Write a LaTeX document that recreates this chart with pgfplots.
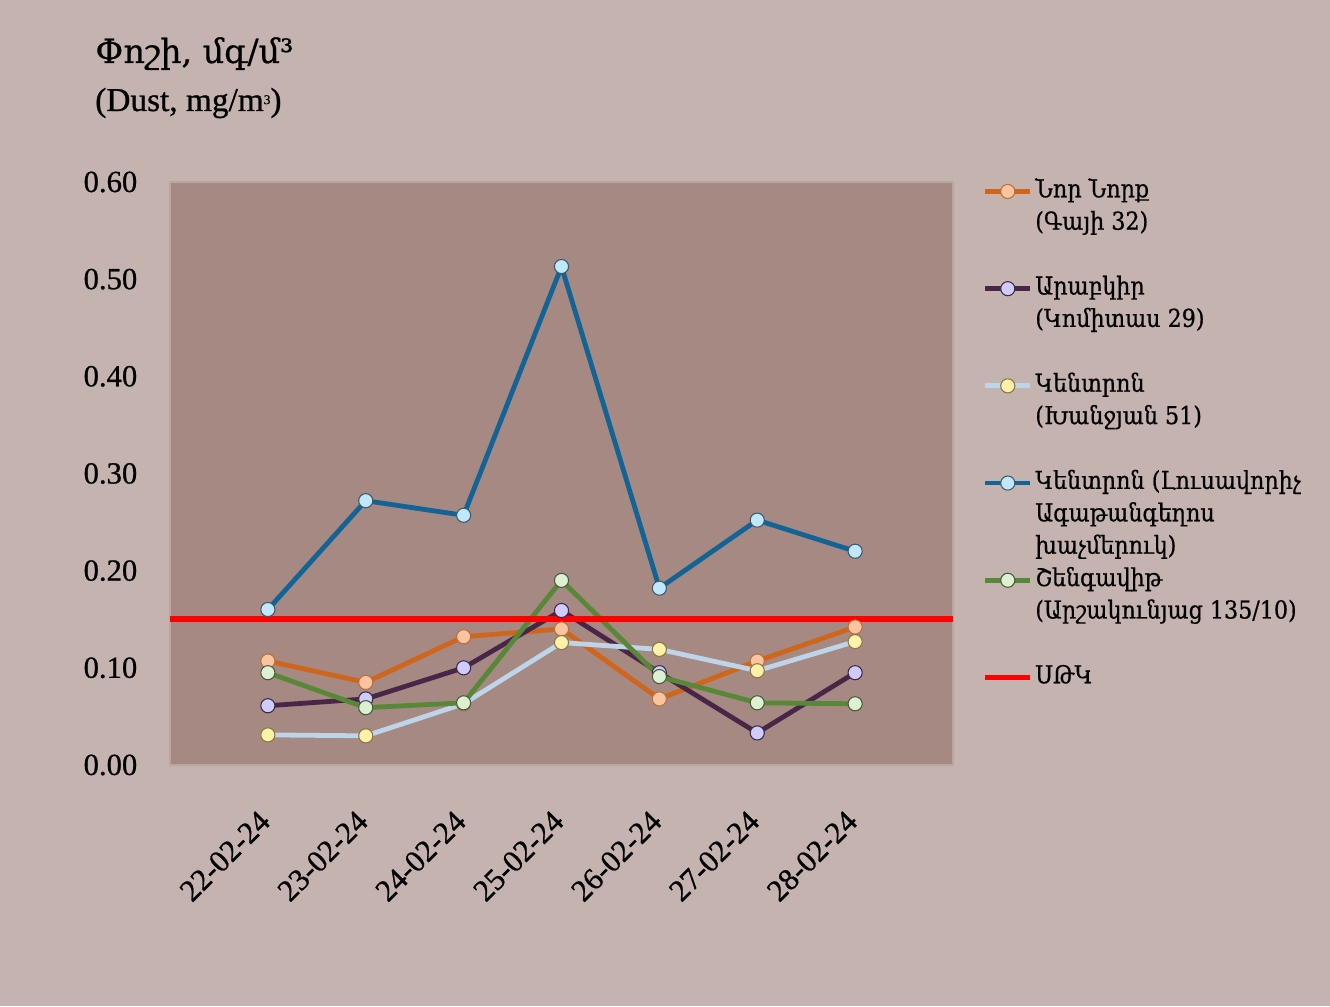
\documentclass[border=0pt]{standalone}
\usepackage{fontspec}
\setmainfont{Liberation Serif}[FakeBold=0.8]
\newfontfamily\arm{DejaVu Serif}[FakeBold=0.6]
\newfontfamily\armleg{DejaVu Serif}[FakeStretch=0.9, FakeBold=0.6]
\usepackage{pgfplots}
\pgfplotsset{compat=1.18}
\definecolor{bg}{RGB}{197,179,176}
\definecolor{plotbg}{RGB}{165,137,130}
\definecolor{cOr}{RGB}{208,102,28}
\definecolor{mOr}{RGB}{250,196,160}
\definecolor{dOr}{RGB}{190,110,60}
\definecolor{cPu}{RGB}{72,38,72}
\definecolor{mPu}{RGB}{208,204,250}
\definecolor{dPu}{RGB}{60,40,80}
\definecolor{cLb}{RGB}{190,212,232}
\definecolor{mLb}{RGB}{255,240,170}
\definecolor{dLb}{RGB}{140,120,60}
\definecolor{cBl}{RGB}{18,100,150}
\definecolor{mBl}{RGB}{192,232,252}
\definecolor{dBl}{RGB}{60,90,110}
\definecolor{cGr}{RGB}{86,136,56}
\definecolor{mGr}{RGB}{222,240,210}
\definecolor{dGr}{RGB}{70,90,60}
\newcommand\EL[1]{\addlegendimage{empty legend}\addlegendentry{#1}}
\begin{document}
\begin{tikzpicture}
\fill[bg] (0,0) rectangle (997.5pt,754.5pt);
\useasboundingbox (0,0) rectangle (997.5pt,754.5pt);
\node[anchor=base west, inner sep=0pt, font=\arm\fontsize{25}{28}\selectfont] at (71.25pt,707.25pt) {Փոշի, մգ/մ³};
\node[anchor=base west, inner sep=0pt, font=\fontsize{25}{28}\selectfont] at (71.25pt,671.25pt) {(Dust, mg/m\raisebox{0.45ex}{\fontsize{10}{10}\selectfont 3})};
\begin{axis}[
  at={(127.5pt,180.75pt)}, anchor=south west,
  scale only axis, width=587.25pt, height=437.25pt,
  xmin=-1, xmax=7, ymin=0, ymax=0.6,
  ytick={0,0.1,0.2,0.3,0.4,0.5,0.6},
  xtick={0,1,2,3,4,5,6},
  xticklabels={22-02-24,23-02-24,24-02-24,25-02-24,26-02-24,27-02-24,28-02-24},
  axis background/.style={fill=plotbg},
  axis line style={draw={rgb,255:red,185;green,166;blue,162}, line width=1pt},
  major tick length=0pt,
  tick label style={font=\fontsize{23}{27}\selectfont},
  /pgf/number format/assume math mode=true,
  yticklabel style={/pgf/number format/fixed, /pgf/number format/fixed zerofill, /pgf/number format/precision=2, anchor=east, xshift=-21pt},
  xticklabel style={yshift=-36pt, rotate=45, anchor=east},
  legend style={at={(1.037,1.012)}, anchor=north west, draw=none, fill=none,
    font=\armleg\fontsize{18.5}{24}\selectfont, row sep=0pt, inner sep=0pt,
    nodes={text height=16.5pt, text depth=7.8pt, inner ysep=0pt, inner xsep=1.5pt},
    /tikz/every even column/.append style={column sep=0pt}},
  legend cell align=left,
  legend image code/.code={\draw[mark repeat=2,mark phase=2,#1] plot coordinates {(0pt,0pt) (17pt,0pt) (34pt,0pt)};},
]
\addplot[color=cOr, line width=3.6pt, mark=*, mark size=5.3pt, mark options={fill=mOr, draw=dOr, line width=0.8pt}]
  coordinates {(0,0.107) (1,0.085) (2,0.132) (3,0.140) (4,0.068) (5,0.107) (6,0.142)};
\addlegendentry{Նոր Նորք}
\EL{(Գայի 32)}
\EL{\mbox{}}
\addplot[color=cPu, line width=3.6pt, mark=*, mark size=5.3pt, mark options={fill=mPu, draw=dPu, line width=0.8pt}]
  coordinates {(0,0.061) (1,0.068) (2,0.100) (3,0.159) (4,0.095) (5,0.033) (6,0.095)};
\addlegendentry{Արաբկիր}
\EL{(Կոմիտաս 29)}
\EL{\mbox{}}
\addplot[color=cLb, line width=3.6pt, mark=*, mark size=5.3pt, mark options={fill=mLb, draw=dLb, line width=0.8pt}]
  coordinates {(0,0.031) (1,0.030) (2,0.063) (3,0.126) (4,0.119) (5,0.097) (6,0.127)};
\addlegendentry{Կենտրոն}
\EL{(Խանջյան 51)}
\EL{\mbox{}}
\addplot[color=cBl, line width=3.6pt, mark=*, mark size=5.3pt, mark options={fill=mBl, draw=dBl, line width=0.8pt}]
  coordinates {(0,0.160) (1,0.272) (2,0.257) (3,0.513) (4,0.182) (5,0.252) (6,0.220)};
\addlegendentry{Կենտրոն (Լուսավորիչ}
\EL{Ագաթանգեղոս}
\EL{խաչմերուկ)}
\addplot[color=cGr, line width=3.6pt, mark=*, mark size=5.3pt, mark options={fill=mGr, draw=dGr, line width=0.8pt}]
  coordinates {(0,0.095) (1,0.059) (2,0.064) (3,0.190) (4,0.091) (5,0.064) (6,0.063)};
\addlegendentry{Շենգավիթ}
\EL{(Արշակունյաց 135/10)}
\EL{\mbox{}}
\addplot[color=red, line width=4.3pt] coordinates {(-1,0.15) (7,0.15)};
\addlegendentry{ՍԹԿ}
\end{axis}
\end{tikzpicture}
\end{document}
